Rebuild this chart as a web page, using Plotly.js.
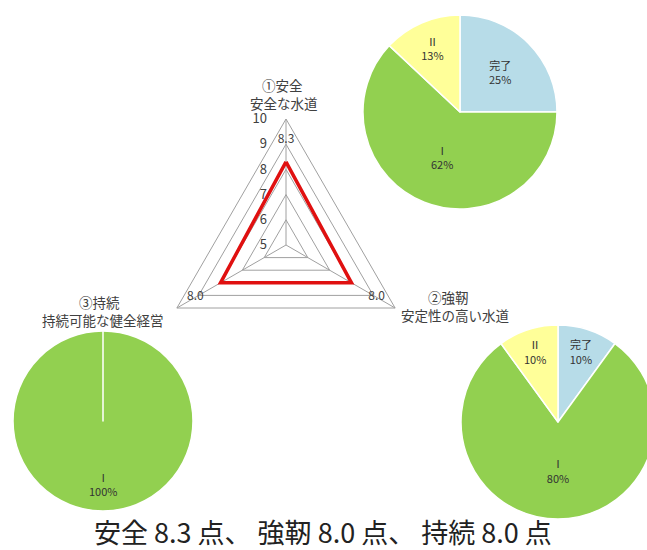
<!DOCTYPE html>
<html>
<head>
<meta charset="utf-8">
<script src="https://cdn.plot.ly/plotly-3.0.1.min.js"></script>
<style>
html,body{margin:0;padding:0;overflow:hidden;background:#fff;}
#chart{width:660px;height:550px;}
</style>
</head>
<body>
<div id="chart"></div>
<script>
// ---- data ----
var axisNames = ['①安全', '②強靭', '③持続'];
var axisSubtitles = ['安全な水道', '安定性の高い水道', '持続可能な健全経営'];
var scores = [8.3, 8.0, 8.0];
var radialTicks = [5, 6, 7, 8, 9, 10];

var pieLabels = ['完了', 'Ⅰ', 'Ⅱ'];
var pieSafe = [25, 62, 13];        // ①安全
var pieResilient = [10, 80, 10];   // ②強靭
var pieSustain = [0, 100, 0];      // ③持続

var captionShort = ['安全', '強靭', '持続'];
var captionUnit = '点';

// ---- layout helpers ----
var W = 660, H = 550;
function fx(px){ return px / W; }
function fy(py){ return 1 - py / H; }
function circleDomain(cx, cy, r){
  return {x:[fx(cx - r), fx(cx + r)], y:[fy(cy + r), fy(cy - r)]};
}

var FONT = '"Noto Sans CJK JP", "Noto Sans", sans-serif';
var TXT = '#404040';
var GRID = '#a0a0a0';
var pieColors = ['#b7dce8', '#92d050', '#ffff99'];

var LABEL_R = 9.15;

var traces = [];
traces.push({
  type: 'scatterpolar',
  r: scores.concat([scores[0]]),
  theta: axisNames.concat([axisNames[0]]),
  mode: 'lines',
  line: {color: '#e01010', width: 3.5},
  hoverinfo: 'skip',
  subplot: 'polar'
});
traces.push({
  type: 'scatterpolar',
  r: scores.map(function(){ return LABEL_R; }),
  theta: axisNames,
  mode: 'text',
  text: scores.map(function(v){ return v.toFixed(1); }),
  textfont: {family: FONT, size: 12, color: TXT},
  cliponaxis: false,
  hoverinfo: 'skip',
  subplot: 'polar'
});

function makePie(values, dom, showText){
  return {
    type: 'pie',
    labels: pieLabels,
    values: values,
    sort: false,
    direction: 'clockwise',
    rotation: 0,
    domain: dom,
    marker: {colors: pieColors, line: {color: '#ffffff', width: 1.5}},
    textinfo: showText ? 'label+percent' : 'none',
    textposition: 'inside',
    insidetextorientation: 'horizontal',
    textfont: {family: FONT, size: 11, color: '#333333'},
    hoverinfo: 'label+percent'
  };
}
traces.push(makePie(pieSafe, circleDomain(460, 112, 97), true));
traces.push(makePie(pieResilient, circleDomain(558, 422, 97), true));
traces.push(makePie(pieSustain, circleDomain(103, 421, 90), false));

var caption = captionShort.map(function(n, i){
  return n + ' ' + scores[i].toFixed(1) + ' ' + captionUnit;
}).join('、 ');

// axis titles, two lines each
var titlePos = [
  [{x: 282, y: 85}, {x: 284, y: 103}],
  [{x: 448, y: 297}, {x: 455, y: 315}],
  [{x: 99, y: 302}, {x: 103, y: 320}]
];
var annotations = [];
axisNames.forEach(function(n, i){
  [n, axisSubtitles[i]].forEach(function(t, j){
    annotations.push({
      xref: 'paper', yref: 'paper',
      x: fx(titlePos[i][j].x), y: fy(titlePos[i][j].y),
      xanchor: 'center', yanchor: 'middle',
      text: t,
      showarrow: false,
      font: {family: FONT, size: 13.5, color: TXT}
    });
  });
});

// label of the single full slice in the ③ pie (placed at the slice's mid-angle, like the reference)
var sustainTotal = pieSustain.reduce(function(a, b){ return a + b; }, 0);
pieSustain.forEach(function(v, i){
  if (v > 0) {
    annotations.push({
      xref: 'paper', yref: 'paper',
      x: fx(103), y: fy(484),
      xanchor: 'center', yanchor: 'middle',
      text: pieLabels[i] + '<br>' + Math.round(100 * v / sustainTotal) + '%',
      showarrow: false,
      font: {family: FONT, size: 11, color: '#333333'}
    });
  }
});

annotations.push({
  xref: 'paper', yref: 'paper',
  x: fx(323), y: fy(531),
  xanchor: 'center', yanchor: 'middle',
  text: caption,
  showarrow: false,
  font: {family: FONT, size: 27, color: '#222222'}
});

var layout = {
  width: W, height: H,
  margin: {l: 0, r: 0, t: 0, b: 0},
  paper_bgcolor: '#ffffff',
  showlegend: false,
  polar: {
    domain: circleDomain(286, 245, 126),
    gridshape: 'linear',
    bgcolor: 'rgba(0,0,0,0)',
    angularaxis: {
      type: 'category',
      categoryarray: axisNames,
      rotation: 90,
      direction: 'clockwise',
      showticklabels: false,
      ticks: '',
      gridcolor: GRID,
      linecolor: GRID,
      linewidth: 1,
      showline: true
    },
    radialaxis: {
      range: [5, 10],
      tickvals: radialTicks,
      angle: 90,
      side: 'counterclockwise',
      tickangle: 90,
      showline: false,
      ticks: 'outside',
      ticklen: 14,
      tickcolor: 'rgba(0,0,0,0)',
      gridcolor: GRID,
      tickfont: {family: FONT, size: 13, color: TXT}
    }
  },
  annotations: annotations
};

Plotly.newPlot('chart', traces, layout, {displayModeBar: false, staticPlot: true});
</script>
</body>
</html>
